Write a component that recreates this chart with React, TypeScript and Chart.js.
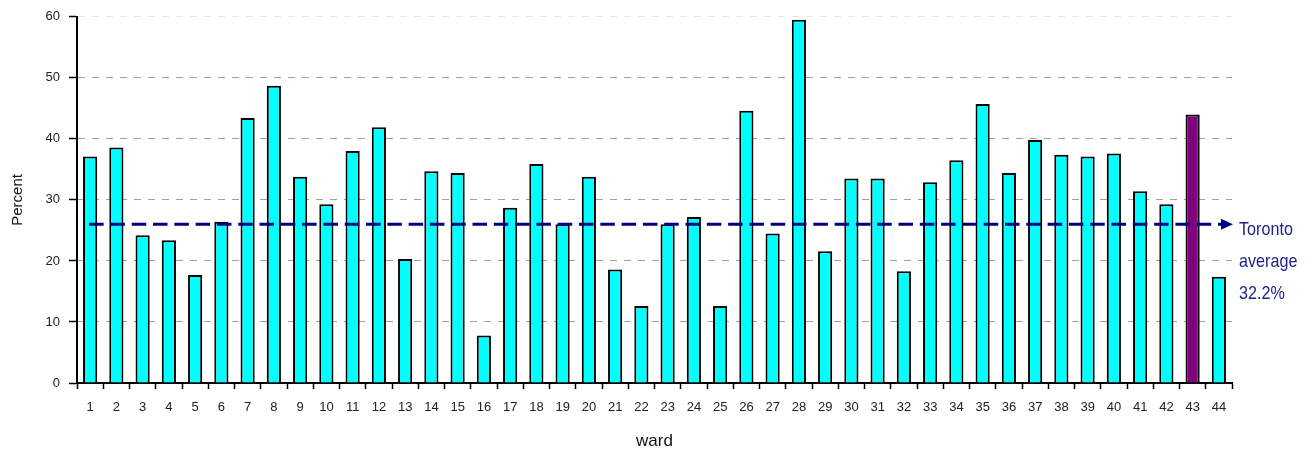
import React, { useEffect, useRef } from 'react';
import { Chart, registerables } from 'chart.js';

Chart.register(...registerables);

const wards = [
  '1', '2', '3', '4', '5', '6', '7', '8', '9', '10', '11',
  '12', '13', '14', '15', '16', '17', '18', '19', '20', '21', '22',
  '23', '24', '25', '26', '27', '28', '29', '30', '31', '32', '33',
  '34', '35', '36', '37', '38', '39', '40', '41', '42', '43', '44',
];

const percentValues = [
  37.1, 38.6, 24.2, 23.4, 17.7, 26.4, 43.4, 48.7, 33.8, 29.3, 38.0,
  41.9, 20.3, 34.7, 34.4, 7.8, 28.7, 35.9, 26.0, 33.8, 18.6, 12.6,
  26.0, 27.2, 12.6, 44.6, 24.5, 59.5, 21.6, 33.5, 33.5, 18.3, 32.9,
  36.5, 45.7, 34.4, 39.8, 37.4, 37.1, 37.6, 31.4, 29.3, 44.0, 17.4,
];

const highlightedWard = '43';
const torontoAverageLevel = 26;
const averageLabelLines = ['Toronto', 'average', '32.2%'];

const yAxisMin = 0;
const yAxisMax = 60;
const yAxisStep = 10;

const xAxisTitle = 'ward';
const yAxisTitle = 'Percent';

const FONT = '"Liberation Sans", Arial, sans-serif';
const NAVY = '#000080';
const LABEL_NAVY = '#22228c';

const averagePlugin = {
  id: 'torontoAverage',
  afterDatasetsDraw(chart: any) {
    const { ctx, chartArea, scales } = chart;
    const y = scales.y.getPixelForValue(torontoAverageLevel);
    const xStart = scales.x.getPixelForValue(0) - 1;
    const tipX = chartArea.right + 1;
    const baseX = tipX - 12;
    ctx.save();
    ctx.strokeStyle = NAVY;
    ctx.lineWidth = 3;
    ctx.setLineDash([14.5, 6.8]);
    ctx.beginPath();
    ctx.moveTo(xStart, y);
    ctx.lineTo(baseX, y);
    ctx.stroke();
    ctx.setLineDash([]);
    ctx.fillStyle = NAVY;
    ctx.beginPath();
    ctx.moveTo(tipX, y);
    ctx.lineTo(baseX, y - 5.5);
    ctx.lineTo(baseX, y + 5.5);
    ctx.closePath();
    ctx.fill();

    // condensed, tall label text
    const textX = chartArea.right + 7;
    const squeeze = 0.85;
    ctx.translate(textX, 0);
    ctx.scale(squeeze, 1);
    ctx.fillStyle = LABEL_NAVY;
    ctx.font = `19px ${FONT}`;
    ctx.textAlign = 'left';
    ctx.textBaseline = 'middle';
    averageLabelLines.forEach((line, i) => {
      ctx.fillText(line, 0, y + 5 + i * 32);
    });
    ctx.restore();
  },
};

export default function App() {
  const canvasRef = useRef<HTMLCanvasElement>(null);

  useEffect(() => {
    const canvas = canvasRef.current;
    if (!canvas) return;
    const chart = new Chart(canvas, {
      type: 'bar',
      data: {
        labels: wards,
        datasets: [
          {
            data: percentValues,
            backgroundColor: wards.map((w) => (w === highlightedWard ? '#800080' : '#00ffff')),
            borderColor: '#000000',
            borderWidth: 2,
            barPercentage: 0.54,
            categoryPercentage: 1.0,
          },
        ],
      },
      options: {
        responsive: false,
        animation: false,
        layout: { padding: { top: 15, right: 80, bottom: 0, left: 0 } },
        plugins: {
          legend: { display: false },
          tooltip: { enabled: false },
        },
        scales: {
          x: {
            type: 'category',
            offset: true,
            grid: {
              display: true,
              drawOnChartArea: false,
              drawTicks: true,
              offset: true,
              tickLength: 6,
              tickColor: '#000000',
              tickWidth: 1.5,
            },
            border: { display: true, color: '#000000', width: 2 },
            ticks: {
              font: { family: FONT, size: 13 },
              color: '#222222',
              padding: 11,
              maxRotation: 0,
              autoSkip: false,
            },
            title: {
              display: true,
              text: xAxisTitle,
              font: { family: FONT, size: 17, lineHeight: 1 },
              color: '#111111',
              padding: { top: 0, bottom: 1 },
            },
            afterFit: (scale: any) => {
              scale.height = 68;
            },
          },
          y: {
            min: yAxisMin,
            max: yAxisMax,
            ticks: {
              stepSize: yAxisStep,
              font: { family: FONT, size: 13 },
              color: '#222222',
              padding: 9,
            },
            grid: {
              color: (ctx: any) => (ctx.tick && ctx.tick.value === yAxisMax ? '#e6e6e6' : '#a0a0a0'),
              lineWidth: 1,
              drawTicks: true,
              tickLength: 8,
              tickColor: '#000000',
              tickWidth: 1.5,
              tickBorderDash: [],
            },
            border: { display: true, color: '#000000', width: 2, dash: [7, 7] },
            title: {
              display: true,
              text: yAxisTitle,
              font: { family: FONT, size: 15, lineHeight: 1 },
              color: '#111111',
              padding: { top: 10, bottom: 0 },
            },
            afterFit: (scale: any) => {
              scale.width = 77;
            },
          },
        },
      } as any,
      plugins: [averagePlugin],
    });
    return () => chart.destroy();
  }, []);

  return (
    <div style={{ position: 'absolute', left: 0, top: 0, width: 1312, height: 451, background: '#ffffff' }}>
      <canvas ref={canvasRef} width={1312} height={451} style={{ display: 'block' }} />
    </div>
  );
}
